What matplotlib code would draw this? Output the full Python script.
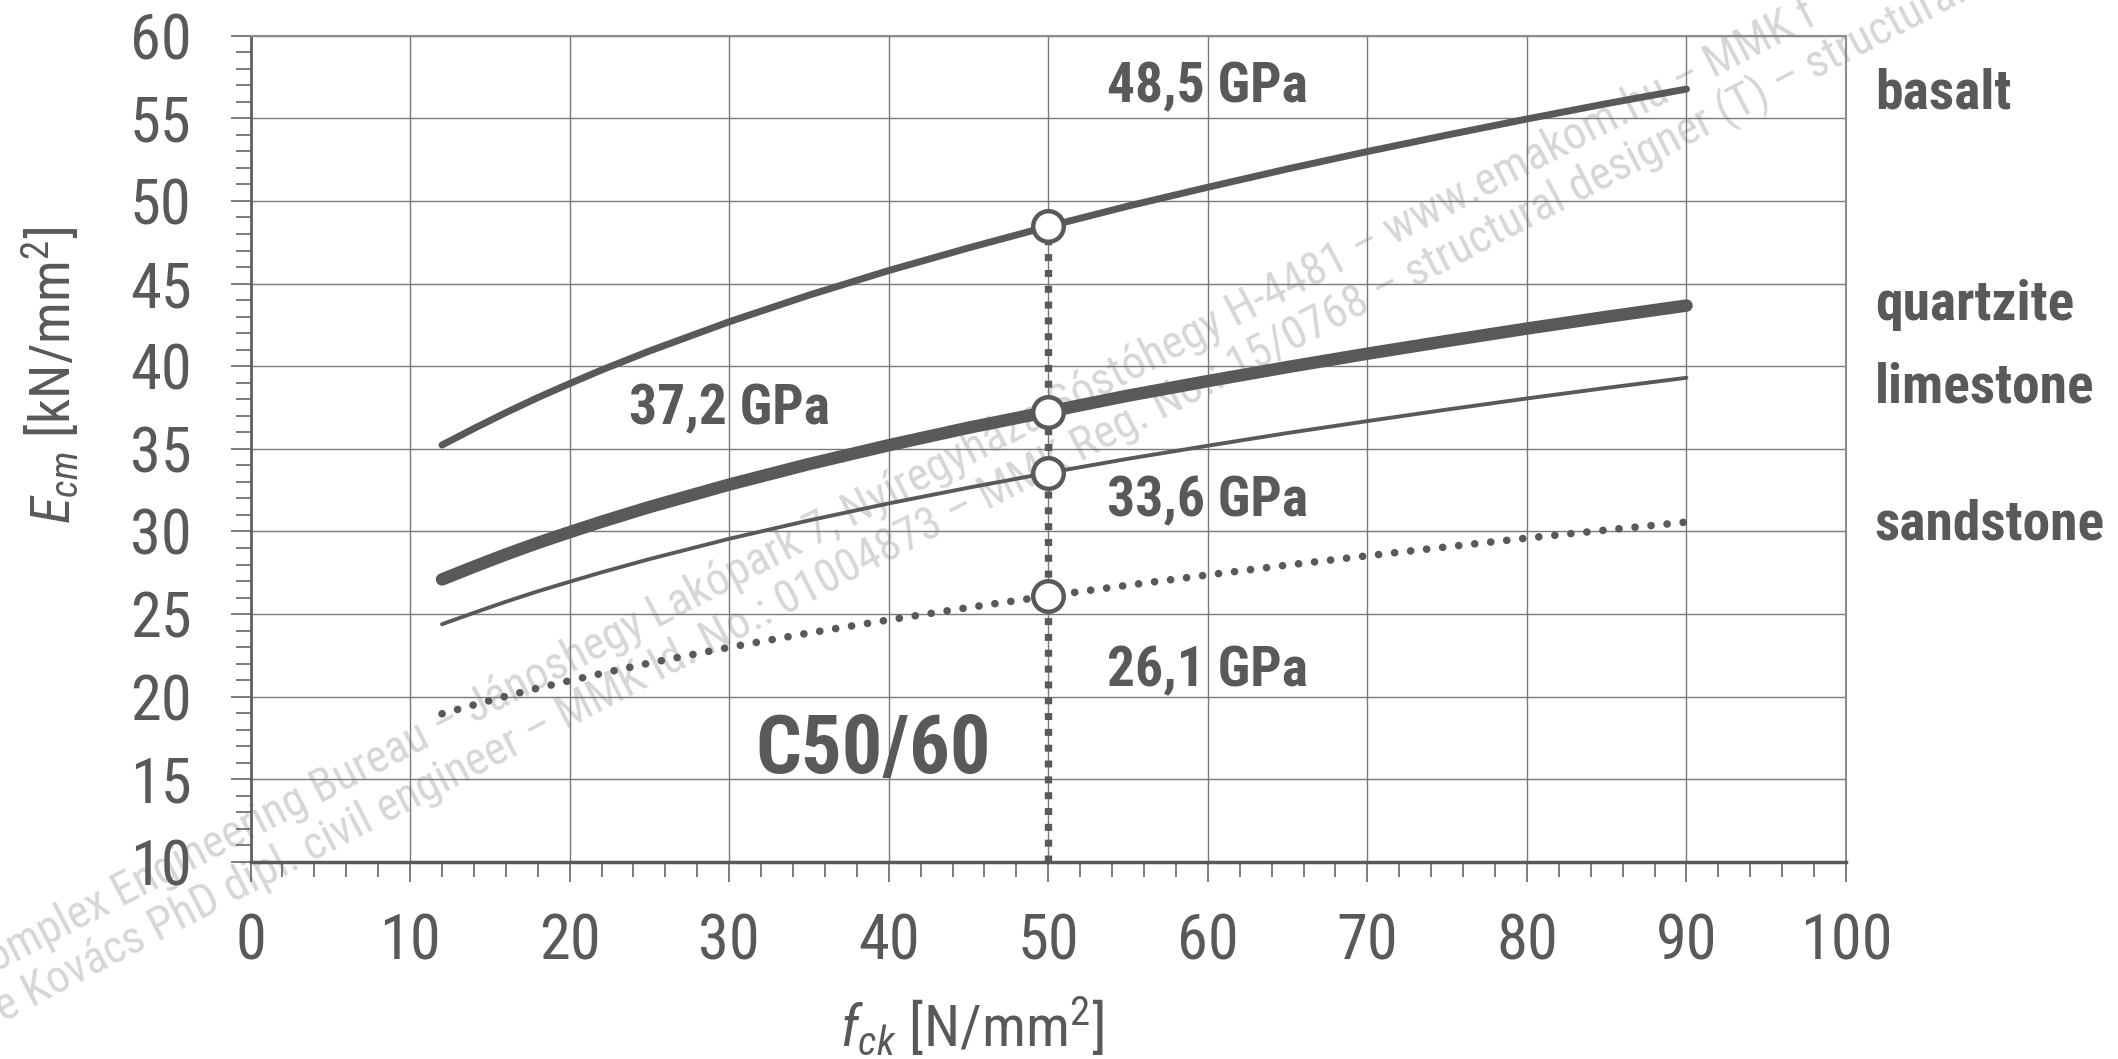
import numpy as np
import matplotlib.pyplot as plt
from matplotlib import font_manager as fm
from matplotlib.ticker import MultipleLocator

# betonszilárdság (fck) és rugalmassági modulus (Ecm)
fck = [12, 14, 16, 18, 20, 22, 25, 30, 35, 40, 45, 50, 55, 60, 65, 70, 75, 80, 85, 90]
basalt = [35.23, 36.23, 37.19, 38.10, 38.95, 39.77, 40.92, 42.69, 44.30, 45.79, 47.16,
          48.46, 49.69, 50.83, 51.94, 52.99, 53.99, 54.96, 55.89, 56.77]
quartzite = [27.10, 27.87, 28.61, 29.31, 29.96, 30.59, 31.48, 32.84, 34.08, 35.22, 36.28,
             37.25, 38.22, 39.10, 39.95, 40.76, 41.53, 42.28, 42.99, 43.67]
limestone = [24.39, 25.08, 25.75, 26.38, 26.96, 27.53, 28.33, 29.56, 30.67, 31.70, 32.65,
             33.55, 34.40, 35.19, 35.96, 36.68, 37.38, 38.05, 38.69, 39.30]
sandstone = [18.97, 19.51, 20.03, 20.52, 20.97, 21.41, 22.04, 22.99, 23.86, 24.65, 25.40,
             26.10, 26.75, 27.37, 27.97, 28.53, 29.07, 29.60, 30.09, 30.57]

names = ['basalt', 'quartzite', 'limestone', 'sandstone']
name_y = [55.6, 42.8, 37.8, 29.5]
gpa_labels = ['48,5 GPa', '37,2 GPa', '33,6 GPa', '26,1 GPa']
gpa_x = [60, 30, 60, 60]
gpa_y = [56.0, 36.5, 30.9, 20.65]
fck_sel = 50
class_label = 'C50/60'

wm1 = ('Complex Engineering Bureau – Jánoshegy Lakópark 7, Nyíregyháza-Sóstóhegy H-4481 – '
       'www.emakom.hu – MMK f')
wm2 = ('Imre Kovács PhD dipl. civil engineer – MMK Id. No.: 01004873 – MMK Reg. No.: 15/0768 – '
       'structural designer (T) – structural')

# keskeny betűtípus keresése (Arial Narrow-hoz hasonló), félkövérrel együtt
cands = ['Liberation Sans Narrow', 'Arial Narrow', 'Roboto Condensed', 'Nimbus Sans Narrow',
         'IBM Plex Sans Condensed', 'Barlow Semi Condensed', 'PT Sans Narrow',
         'Fira Sans Condensed', 'Archivo Narrow']
FAM = 'Liberation Sans'
for cnd in cands:
    ws = [f.weight for f in fm.fontManager.ttflist if f.name == cnd]
    ws = [w if isinstance(w, int) else fm.weight_dict.get(w, 400) for w in ws]
    if 400 in ws and any(w >= 700 for w in ws):
        FAM = cnd
        break

plt.rcParams['font.family'] = [FAM, 'DejaVu Sans']
plt.rcParams['mathtext.fontset'] = 'custom'
plt.rcParams['mathtext.rm'] = FAM
plt.rcParams['mathtext.it'] = FAM + ':italic'

c = '#595959'

fig = plt.figure(figsize=(21.18, 10.59), dpi=100)
ax = fig.add_axes([0.1183, 0.186, 0.7533, 0.7803])
ax.set_facecolor('none')

# vízjel a háttérben
t1 = fig.text(0, 0, wm1, transform=None, zorder=-5, color='#d6d6d6', fontsize=33,
              rotation=27.5, rotation_mode='anchor', ha='left', va='baseline')
t1.set_position((-28, 1059 - 985))
t2 = fig.text(0, 0, wm2, transform=None, zorder=-5, color='#d6d6d6', fontsize=33,
              rotation=27.5, rotation_mode='anchor', ha='left', va='baseline')
t2.set_position((-50, 1059 - 1050))

ax.plot(fck, basalt, color=c, lw=5, solid_capstyle='round', zorder=3)
ax.plot(fck, quartzite, color=c, lw=9, solid_capstyle='round', zorder=3)
ax.plot(fck, limestone, color=c, lw=2.8, solid_capstyle='round', zorder=3)
ax.plot(fck, sandstone, color=c, lw=5.5, linestyle=(0, (0.01, 2.1)),
        dash_capstyle='round', zorder=3)

i = fck.index(fck_sel)
sel = [basalt[i], quartzite[i], limestone[i], sandstone[i]]
ax.plot([fck_sel, fck_sel], [10, max(sel)], color=c, lw=5.3,
        linestyle=(0, (0.95, 1.2)), dash_capstyle='butt', zorder=4)
ax.plot([fck_sel] * 4, sel, 'o', ms=22, mfc='white', mec=c, mew=3.2, zorder=5)

for s, x, y in zip(gpa_labels, gpa_x, gpa_y):
    ax.text(x, y, s, ha='center', va='baseline', fontsize=40, fontweight='bold', color=c)
ax.text(39, 15.4, class_label, ha='center', va='baseline', fontsize=58,
        fontweight='bold', color=c)
for s, y in zip(names, name_y):
    ax.text(101.8, y, s, ha='left', va='baseline', fontsize=40, fontweight='bold',
            color=c, clip_on=False)

ax.set_xlim(0, 100)
ax.set_ylim(10, 60)
ax.xaxis.set_major_locator(MultipleLocator(10))
ax.xaxis.set_minor_locator(MultipleLocator(2))
ax.yaxis.set_major_locator(MultipleLocator(5))
ax.yaxis.set_minor_locator(MultipleLocator(1))
ax.grid(which='major', color='#7a7a7a', lw=1)
ax.set_axisbelow(True)

ax.tick_params(which='major', length=14.4, width=1.1, color=c, labelsize=45, labelcolor=c)
ax.tick_params(which='minor', length=10.5, width=1.1, color=c)
ax.tick_params(axis='x', which='major', pad=22)
ax.tick_params(axis='y', which='major', pad=28)

for side in ['top', 'right']:
    ax.spines[side].set_color('#8c8c8c')
    ax.spines[side].set_linewidth(1.5)
ax.spines['bottom'].set_color(c)
ax.spines['bottom'].set_linewidth(2.5)
ax.spines['left'].set_color('#606060')
ax.spines['left'].set_linewidth(2)

fig.text(51 / 2118, 1 - 375 / 1059, r'$E_{cm}$ [kN/mm$^2$]', rotation=90,
         ha='center', va='center', fontsize=40, color=c)
fig.text(972 / 2118, 1 - 1027 / 1059, r'$f_{ck}$ [N/mm$^2$]',
         ha='center', va='center', fontsize=42, color=c)

fig.savefig('out.png', dpi=100)
